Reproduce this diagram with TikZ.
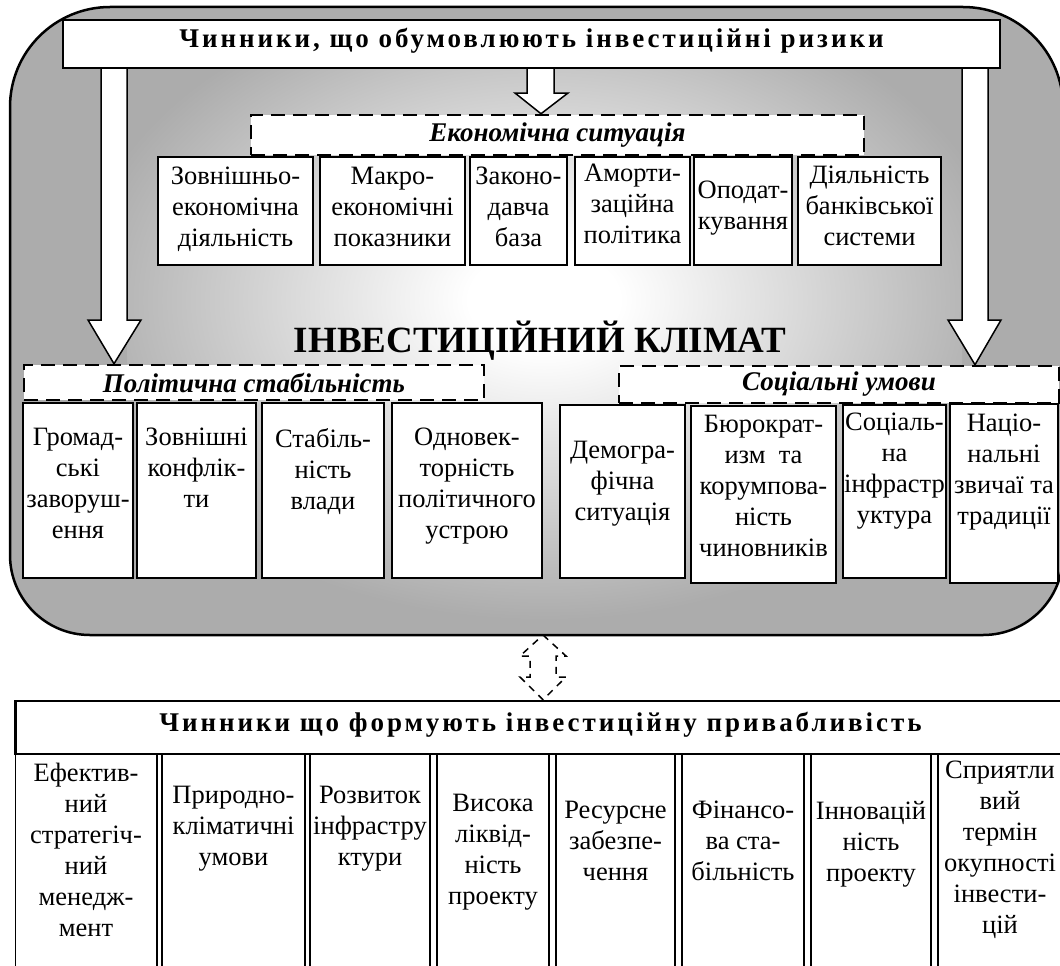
\documentclass[tikz,border=0pt]{standalone}
\usepackage{fontspec}
\setmainfont{Liberation Serif}
\newfontfamily\spacedfont[LetterSpace=11]{Liberation Serif}
\definecolor{bggray}{RGB}{172,172,172}
\pgfdeclareradialshading{climateshade}{\pgfpoint{0bp}{0bp}}{color(0bp)=(white); color(4bp)=(white); color(25bp)=(bggray); color(50bp)=(bggray)}

\begin{document}
\begin{tikzpicture}[x=1pt, y=-1pt,
  frame/.style={line width=2.5pt},
  headbox/.style={draw, line width=2.5pt, fill=white, inner sep=0pt, text depth=12pt},
  dashbox/.style={draw, line width=2.5pt, dash pattern=on 14pt off 8pt, fill=white, inner sep=0pt, font=\fontsize{27}{30}\selectfont\bfseries\itshape},
  cellbox/.style={draw, line width=1.6pt, fill=white},
  celltext/.style={anchor=north, align=center, inner sep=0pt, font=\fontsize{26.5}{31}\selectfont, execute at begin node=\rule{0pt}{22pt}},
  blockarrow/.style={draw, line width=1.5pt, fill=white},
]
\useasboundingbox (0,0) rectangle (1060,966);

% outer frame with the light centre
\draw[frame, fill=bggray] (10,300) [rounded corners=100pt] -- (10,7) -- (1063,7) [rounded corners=80pt] -- (1063,635) -- (10,635) [rounded corners=100pt] -- cycle;
\begin{scope}
\clip (127,68) rectangle (962,632);
\shade[shading=climateshade] (544,300) ellipse [x radius=470, y radius=320];
\end{scope}

\node[headbox, minimum width=937pt, minimum height=48pt, font=\spacedfont\bfseries\fontsize{27}{30}\selectfont] (risks) at (531.5,44) {Чинники, що обумовлюють інвестиційні ризики};

\node[dashbox, minimum width=613pt, minimum height=40pt] (econ) at (557.5,135) {Економічна ситуація};
\node[dashbox, minimum width=460pt, minimum height=35pt] (polit) at (254,382.5) {Політична стабільність};
\node[dashbox, minimum width=440pt, minimum height=37pt] (social) at (839,384.5) {Соціальні умови};

% block arrows
\draw[blockarrow] (101,0 |- risks.south) -- (101,320) -- (88,320) -- (114,0 |- polit.north) -- (141,320) -- (127,320) -- (127,0 |- risks.south);
\draw[blockarrow] (962,0 |- risks.south) -- (962,320) -- (948,320) -- (975,0 |- social.north) -- (1001,320) -- (988,320) -- (988,0 |- risks.south);
\draw[blockarrow] (527,0 |- risks.south) -- (527,93) -- (515,93) -- (541,0 |- econ.north) -- (568,93) -- (554,93) -- (554,0 |- risks.south);

\node[font=\bfseries\fontsize{37}{40}\selectfont, inner sep=0pt] (climate) at (540,341) {ІНВЕСТИЦІЙНИЙ КЛІМАТ};

% economic situation
\draw[cellbox] (158,157) rectangle (313,265);
\draw[cellbox] (320,157) rectangle (465,265);
\draw[cellbox] (470,157) rectangle (567,265);
\draw[cellbox] (575,157) rectangle (690,265);
\draw[cellbox] (694,157) rectangle (792,265);
\draw[cellbox] (798,157) rectangle (941,265);
\node[celltext] (ext) at (235.5,167) {Зовнішньо-\\економічна\\діяльність};
\node[celltext] (macro) at (392.5,167) {Макро-\\економічні\\показники};
\node[celltext] (law) at (518.5,167) {Законо-\\давча\\база};
\node[celltext] (amort) at (632.5,164) {Аморти-\\заційна\\політика};
\node[celltext] (tax) at (743,181) {Оподат-\\кування};
\node[celltext] (bank) at (869.5,166) {Діяльність\\банківської\\системи};

% political stability
\draw[cellbox] (23,403) rectangle (133,578);
\draw[cellbox] (137,403) rectangle (256,578);
\draw[cellbox] (262,403) rectangle (384,578);
\draw[cellbox] (392,403) rectangle (542,578);
\node[celltext] (riots) at (78,428) {Громад-\\ські\\заворуш-\\ення};
\node[celltext] (conflicts) at (196.5,428) {Зовнішні\\конфлік-\\ти};
\node[celltext] (power) at (323,428) {Стабіль-\\ність\\влади};
\node[celltext] (vector) at (467,428) {Одновек-\\торність\\політичного\\устрою};

% social conditions
\draw[cellbox] (560,405) rectangle (685,578);
\draw[cellbox] (691,406) rectangle (836,583);
\draw[cellbox] (843,405) rectangle (946,578);
\draw[cellbox] (950,404) rectangle (1058,583);
\node[celltext] (demo) at (622.5,441) {Демогра-\\фічна\\ситуація};
\node[celltext] (bureau) at (763.5,415) {Бюрократ-\\изм~ та\\корумпова-\\ність\\чиновників};
\node[celltext] (infra) at (894.5,413) {Соціаль-\\на\\інфрастр\\уктура};
\node[celltext] (customs) at (1004,414) {Націо-\\нальні\\звичаї та\\традиції};

% attractiveness factors
\draw[cellbox] (15.5,754) rectangle (157,985);
\draw[cellbox] (162,754) rectangle (305,985);
\draw[cellbox] (310,754) rectangle (430,985);
\draw[cellbox] (437,754) rectangle (549,985);
\draw[cellbox] (556,754) rectangle (675,985);
\draw[cellbox] (682,754) rectangle (804,985);
\draw[cellbox] (811,754) rectangle (931,985);
\draw[cellbox] (938,754) rectangle (1065,985);
\node[headbox, minimum width=1050pt, minimum height=53pt, font=\spacedfont\bfseries\fontsize{27}{30}\selectfont] (attract) at (540.5,727.5) {Чинники що формують інвестиційну привабливість};
\node[celltext] (mgmt) at (86,763) {Ефектив-\\ний\\стратегіч-\\ний\\менедж-\\мент};
\node[celltext] (nature) at (233.5,786) {Природно-\\кліматичні\\умови};
\node[celltext] (infrastr) at (370,786) {Розвиток\\інфрастру\\ктури};
\node[celltext] (liquid) at (493,794) {Висока\\ліквід-\\ність\\проекту};
\node[celltext] (resource) at (615.5,801) {Ресурсне\\забезпе-\\чення};
\node[celltext] (finance) at (743,801) {Фінансо-\\ва ста-\\більність};
\node[celltext] (innov) at (871,801) {Інновацій\\ність\\проекту};
\node[celltext] (payback) at (1000,761) {Сприятли\\вий\\термін\\окупності\\інвести-\\цій};

% two-way link
\draw[line width=1.5pt, dash pattern=on 7pt off 6pt] (543,635) -- (566,656) -- (556,656) -- (556,677) -- (566,677) -- (543,0 |- attract.north) -- (520,677) -- (530,677) -- (530,656) -- (520,656) -- cycle;

\end{tikzpicture}
\end{document}
